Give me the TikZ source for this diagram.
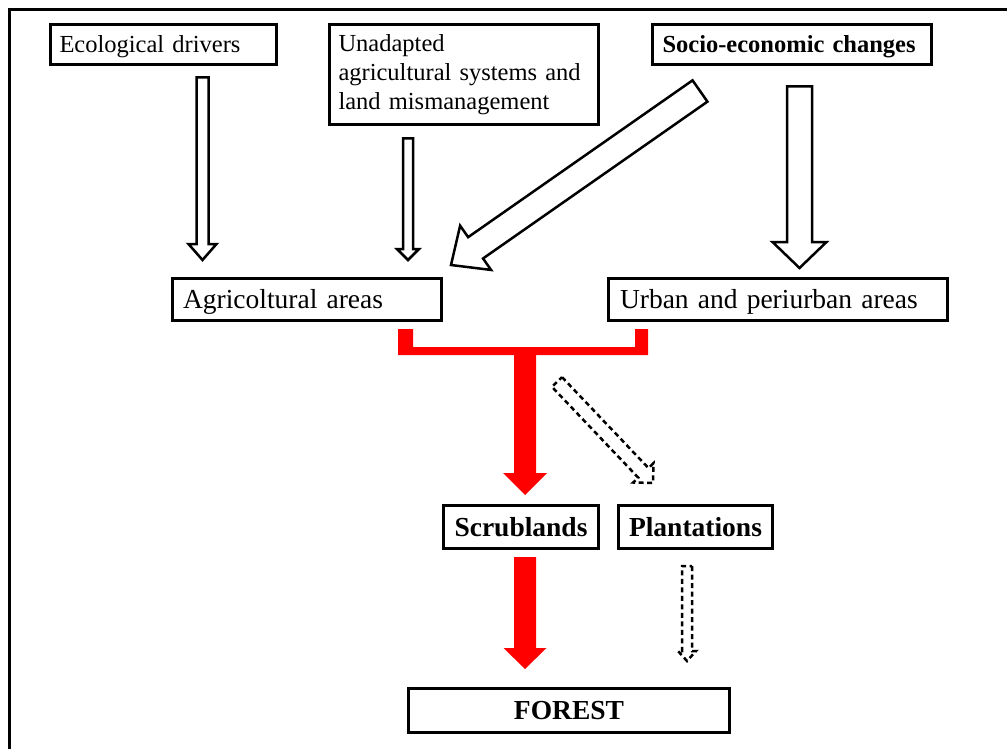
\documentclass[tikz,border=0pt]{standalone}
\usepackage{fontspec}
\setmainfont[WordSpace=0.75]{Liberation Serif}
\usetikzlibrary{calc}

\newcommand{\topsize}{\fontsize{24.5}{29}\selectfont}
\newcommand{\midsize}{\fontsize{27.5}{32}\selectfont}

% block arrow: #2 tail, #3 tip, #4 half shaft, #5 half head, #6 head length
\newcommand{\flowarrow}[6][]{%
  \coordinate (hb) at ($(#3)!#6!(#2)$);
  \draw[#1] ($(#2)!#4!90:(#3)$) -- ($(hb)!#4!90:(#3)$) -- ($(hb)!#5!90:(#3)$) -- (#3)
    -- ($(hb)!#5!-90:(#3)$) -- ($(hb)!#4!-90:(#3)$) -- ($(#2)!#4!-90:(#3)$) -- cycle;}

\begin{document}
\begin{tikzpicture}[x=1pt,y=-1pt,
    box/.style={draw,line width=3pt,outer sep=0pt,inner xsep=9pt,inner ysep=0pt},
    small/.style={font=\topsize,text height=18.5pt,text depth=2.5pt},
    big/.style={font=\midsize,text height=20.5pt,text depth=2.5pt},
    hollow/.style={draw,line width=2.5pt,fill=white,line join=miter},
    redarrow/.style={fill=red,draw=none},
    dashedarrow/.style={draw,line width=2.5pt,dash pattern=on 5pt off 3.5pt,line join=miter}]
    \useasboundingbox (0,0) rectangle (1007,749);
    \draw[line width=3pt] (9.5,749) -- (9.5,9.5) -- (1007,9.5);

    \node[box,small,minimum height=40pt,text width=208pt,align=left] (eco) at (163.5,44.5) {Ecological drivers};
    \node[box,font=\topsize,minimum height=100pt,text width=251pt,align=left] (unad) at (464,74.5)
        {Unadapted\\agricultural systems and\\land mismanagement};
    \node[box,small,minimum height=40pt,text width=259pt,inner xsep=10pt,align=left] (socio) at (792,44.5) {\textbf{Socio-economic changes}};
    \node[box,big,minimum height=42pt,text width=248pt,inner xsep=10.5pt,align=left] (agri) at (307,299.5) {Agricoltural areas};
    \node[box,big,minimum height=42pt,text width=316pt,inner xsep=11.5pt,align=left] (urban) at (778,299.5) {Urban and periurban areas};
    \node[box,big,minimum width=155pt,minimum height=43pt] (scrub) at (521,527) {\textbf{Scrublands}};
    \node[box,big,minimum width=154pt,minimum height=43pt] (plant) at (695.5,527) {\textbf{Plantations}};
    \node[box,big,minimum width=321pt,minimum height=44pt] (forest) at (569,710.5) {\textbf{FOREST}};

    % end points of the arrows
    \coordinate (eco-out) at ($(eco.south)+(39,13)$);
    \coordinate (eco-in) at ($(agri.north)+(-104.5,-18.5)$);
    \coordinate (unad-out) at ($(unad.south)+(-56,14)$);
    \coordinate (unad-in) at ($(agri.north)+(101,-18.5)$);
    \coordinate (socio-out) at ($(socio.south)+(7.5,22)$);
    \coordinate (socio-in) at ($(urban.north)+(21.5,-10.5)$);
    \coordinate (diag-out) at ($(socio.south)+(-92,26.5)$);
    \coordinate (diag-in) at ($(agri.north east)+(9.5,-13.5)$);
    \coordinate (fl) at ($(agri.south)+(91,8.5)$);
    \coordinate (fr) at ($(urban.south)+(-130,8.5)$);
    \coordinate (fj) at ($(fl)+(127,21)$);
    \coordinate (scrub-in) at ($(scrub.north)+(4,-10.5)$);
    \coordinate (scrub-out) at ($(scrub.south)+(4,8.5)$);
    \coordinate (forest-in) at ($(forest.north)+(-44,-19.5)$);
    \coordinate (plant-from) at ($(urban.south)+(-221,61.5)$);
    \coordinate (plant-in) at ($(plant.north)+(-42.5,-22.5)$);
    \coordinate (plant-out) at ($(plant.south)+(-8.5,17.5)$);
    \coordinate (forest-in2) at ($(forest.north east)+(-42.5,-27.5)$);

    \flowarrow[hollow]{eco-out}{eco-in}{6pt}{14pt}{16pt}
    \flowarrow[hollow]{unad-out}{unad-in}{5pt}{11pt}{11pt}
    \flowarrow[hollow]{socio-out}{socio-in}{12.5pt}{27pt}{26pt}
    \flowarrow[hollow]{diag-out}{diag-in}{13pt}{27pt}{30pt}

    \fill[red] (fl) -- ++(15,0) -- ++(0,18) -| ($(fr)+(-13,0)$) -- (fr) -- ++(0,26) -| (fl);
    \flowarrow[redarrow]{fj}{scrub-in}{11pt}{22pt}{22pt}
    \flowarrow[redarrow]{scrub-out}{forest-in}{11pt}{21.5pt}{21pt}

    \flowarrow[dashedarrow]{plant-from}{plant-in}{7pt}{14pt}{14pt}
    \flowarrow[dashedarrow]{plant-out}{forest-in2}{5pt}{9pt}{10pt}
\end{tikzpicture}
\end{document}
